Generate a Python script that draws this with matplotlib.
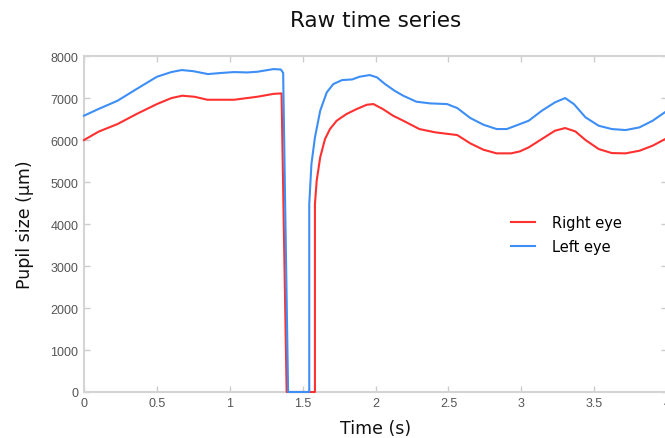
import matplotlib
matplotlib.use("Agg")
import matplotlib.pyplot as plt

# Left eye (blue)
t_left = [0.00, 0.10, 0.23, 0.36, 0.50, 0.60, 0.67, 0.75, 0.85, 0.95, 1.03, 1.12, 1.19, 1.30, 1.35,
          1.366, 1.38, 1.40, 1.545, 1.545, 1.56, 1.584, 1.62, 1.665, 1.71, 1.77, 1.84, 1.89, 1.96,
          2.01, 2.065, 2.13, 2.19, 2.28, 2.375, 2.49, 2.56, 2.65, 2.74, 2.83, 2.90, 2.96, 3.05,
          3.14, 3.23, 3.30, 3.36, 3.44, 3.53, 3.62, 3.715, 3.81, 3.90, 4.00]
v_left = [6580, 6740, 6936, 7214, 7507, 7620, 7667, 7640, 7571, 7600, 7619, 7610, 7627, 7690, 7680,
          7600, 4400, 0, 0, 4476, 5430, 6063, 6698, 7135, 7333, 7428, 7444, 7508, 7548,
          7492, 7333, 7175, 7055, 6913, 6873, 6857, 6762, 6524, 6365, 6262, 6262, 6341, 6460,
          6698, 6897, 7000, 6857, 6540, 6341, 6262, 6238, 6302, 6460, 6700]

# Right eye (red)
t_right = [0.00, 0.10, 0.23, 0.36, 0.50, 0.60, 0.674, 0.76, 0.846, 1.03, 1.19, 1.30, 1.355,
           1.378, 1.39, 1.584, 1.584, 1.596, 1.62, 1.653, 1.687, 1.733, 1.80, 1.87, 1.94, 1.985,
           2.05, 2.12, 2.19, 2.30, 2.41, 2.56, 2.65, 2.74, 2.83, 2.93, 2.99, 3.05, 3.14, 3.23,
           3.30, 3.37, 3.44, 3.53, 3.62, 3.715, 3.81, 3.90, 4.00]
v_right = [6000, 6200, 6381, 6619, 6857, 7000, 7056, 7030, 6960, 6960, 7032, 7100, 7111,
           2413, 0, 0, 4476, 5032, 5587, 6024, 6262, 6460, 6619, 6738, 6841, 6857,
           6738, 6579, 6460, 6262, 6183, 6119, 5920, 5769, 5683, 5683, 5730, 5825, 6024, 6222,
           6286, 6206, 6000, 5786, 5690, 5683, 5746, 5865, 6050]

x_ticks = [0, 0.5, 1, 1.5, 2, 2.5, 3, 3.5, 4]
x_tick_labels = ["0", "0.5", "1", "1.5", "2", "2.5", "3", "3.5", "4"]
y_ticks = [0, 1000, 2000, 3000, 4000, 5000, 6000, 7000, 8000]

fig = plt.figure(figsize=(6.65, 4.39), dpi=100)
ax = fig.add_axes([0.1263, 0.1048, 0.877, 0.7652])

ax.plot(t_right, v_right, color="#ff3030", lw=1.5, label="Right eye", zorder=3, clip_on=False)
ax.plot(t_left, v_left, color="#3d8ef5", lw=1.5, label="Left eye", zorder=3, clip_on=False)

ax.set_xlim(0, 4)
ax.set_ylim(0, 8000)
ax.set_xticks(x_ticks)
ax.set_xticklabels(x_tick_labels)
ax.set_yticks(y_ticks)

for s in ax.spines.values():
    s.set_color("#d4d4d4")
    s.set_linewidth(1.5)

ax.tick_params(direction="in", length=4, width=1, color="#cccccc", top=True, right=True,
               labelcolor="#555555", labelsize=9)
for lab in ax.get_xticklabels() + ax.get_yticklabels():
    lab.set_family("Liberation Sans")
ax.tick_params(axis="y", pad=4)
ax.tick_params(axis="x", pad=3.5)

ax.set_title("Raw time series", fontsize=15.5, family="DejaVu Sans", color="#111111", pad=22)
ax.set_xlabel("Time (s)", fontsize=12.5, family="DejaVu Sans", color="#111111", labelpad=7)
ax.set_ylabel("Pupil size (µm)", fontsize=12.5, family="DejaVu Sans", color="#111111", labelpad=12)

leg = ax.legend(loc="upper left", bbox_to_anchor=(0.71, 0.565), frameon=False,
                prop={"family": "DejaVu Sans", "size": 10.5}, handlelength=1.6,
                handletextpad=1.2, labelspacing=0.6)

fig.savefig("out.png", dpi=100)
